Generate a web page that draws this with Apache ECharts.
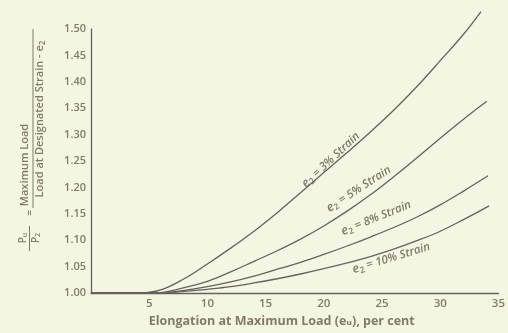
<!DOCTYPE html>
<html>
<head>
<meta charset="utf-8">
<script src="https://cdn.jsdelivr.net/npm/echarts@6/dist/echarts.min.js"></script>
<style>
  html, body { margin: 0; padding: 0; background: #f3f6e3; }
  #chart { width: 508px; height: 333px; }
</style>
</head>
<body>
<div id="chart"></div>
<script>
// Load ratio P_u / P_2 against elongation at maximum load, one curve per designated strain
const strainLevels = ['3%', '5%', '8%', '10%'];

const strain3 = [[0, 1.0], [4, 1.0], [6, 1.006], [8, 1.027], [10, 1.055], [12, 1.085], [14, 1.117],
  [16, 1.152], [18, 1.19], [20, 1.228], [22, 1.266], [24, 1.305], [26, 1.346], [28, 1.391],
  [30, 1.44], [32, 1.49], [33.5, 1.533]];
const strain5 = [[0, 1.0], [5.5, 1.0], [8, 1.01], [10, 1.022], [12, 1.04], [14, 1.06], [16, 1.08],
  [18, 1.102], [20, 1.127], [22, 1.155], [24, 1.186], [26, 1.22], [28, 1.256], [30, 1.293],
  [32, 1.329], [34, 1.363]];
const strain8 = [[0, 1.0], [6, 1.0], [8, 1.005], [10, 1.012], [12, 1.021], [14, 1.032], [16, 1.045],
  [18, 1.058], [20, 1.073], [22, 1.089], [24, 1.106], [26, 1.124], [28, 1.144], [30, 1.167],
  [32, 1.193], [34.1, 1.222]];
const strain10 = [[0, 1.0], [6, 1.0], [8, 1.003], [10, 1.007], [12, 1.012], [14, 1.019], [16, 1.027],
  [18, 1.036], [20, 1.046], [22, 1.057], [24, 1.069], [26, 1.083], [28, 1.099], [30, 1.117],
  [32, 1.139], [34.2, 1.165]];

const xTicks = [0, 5, 10, 15, 20, 25, 30, 35];
const yTicks = [1.00, 1.05, 1.10, 1.15, 1.20, 1.25, 1.30, 1.35, 1.40, 1.45, 1.50];

// where each curve's caption sits (data units) and how it is tilted
const captionAnchors = [
  { at: [20.6, 1.252], rotate: 43 },
  { at: [23.0, 1.197], rotate: 33 },
  { at: [24.5, 1.142], rotate: 22 },
  { at: [25.8, 1.066], rotate: 17 }
];

const ink = '#66625a';
const textInk = '#807a6a';
const fontFace = '"Open Sans", "DejaVu Sans", sans-serif';

const curves = [strain3, strain5, strain8, strain10];

const chart = echarts.init(document.getElementById('chart'), null, { renderer: 'canvas' });

const series = curves.map((pts, i) => ({
  type: 'line',
  data: pts,
  smooth: 0.4,
  showSymbol: false,
  clip: false,
  lineStyle: { color: ink, width: 1.3 },
  silent: true,
  markPoint: {
    symbol: 'circle',
    symbolSize: 0,
    silent: true,
    label: {
      show: true,
      position: 'inside',
      rotate: captionAnchors[i].rotate,
      formatter: '{e|e}{s|2}{t| = ' + strainLevels[i] + ' Strain}',
      rich: {
        e: { fontFamily: fontFace, fontSize: 12.5, fontStyle: 'italic', fontWeight: 600, color: textInk },
        s: { fontFamily: fontFace, fontSize: 8.5, fontWeight: 600, color: textInk, verticalAlign: 'bottom', padding: [6, 0, 0, 0] },
        t: { fontFamily: fontFace, fontSize: 11.5, fontStyle: 'italic', fontWeight: 600, color: textInk }
      }
    },
    data: [{ coord: captionAnchors[i].at, value: strainLevels[i] }]
  }
}));

const option = {
  backgroundColor: '#f3f6e3',
  animation: false,
  grid: { left: 91, top: 29, width: 420, height: 264 },
  xAxis: {
    type: 'value',
    min: xTicks[0],
    max: xTicks[xTicks.length - 1],
    interval: xTicks[1] - xTicks[0],
    name: 'Elongation at Maximum Load (eᵤ), per cent',
    nameLocation: 'middle',
    nameGap: 21,
    nameTextStyle: { fontFamily: fontFace, fontSize: 12.5, fontWeight: 'bold', color: textInk, padding: [0, 26, 0, 0] },
    axisLine: { lineStyle: { color: ink, width: 1.3 } },
    axisTick: { show: false },
    splitLine: { show: false },
    axisLabel: {
      margin: 5,
      fontFamily: fontFace, fontSize: 11.5, fontWeight: 600, color: textInk,
      formatter: v => (v === 0 ? '' : String(v))
    }
  },
  yAxis: {
    type: 'value',
    min: yTicks[0],
    max: yTicks[yTicks.length - 1],
    interval: 0.05,
    axisLine: { show: true, lineStyle: { color: ink, width: 1.3 } },
    axisTick: { show: false },
    splitLine: { show: false },
    axisLabel: {
      margin: 5,
      fontFamily: fontFace, fontSize: 11, fontWeight: 600, color: textInk,
      formatter: v => v.toFixed(2)
    }
  },
  graphic: [
    // left side ratio definition, written bottom-to-top
    {
      type: 'text', x: 25, y: 165, rotation: Math.PI / 2, silent: true,
      style: { text: 'Maximum Load', font: '600 11px ' + fontFace, fill: textInk, align: 'center', verticalAlign: 'middle' }
    },
    {
      type: 'line', silent: true,
      shape: { x1: 33, y1: 29, x2: 33, y2: 208 },
      style: { stroke: textInk, lineWidth: 1 }
    },
    {
      type: 'text', x: 40, y: 119, rotation: Math.PI / 2, silent: true,
      style: {
        text: '{t|Load at Designated Strain - e}{s|2}',
        align: 'center', verticalAlign: 'middle',
        rich: {
          t: { font: '600 11px ' + fontFace, fill: textInk, color: textInk },
          s: { font: '600 8px ' + fontFace, fill: textInk, color: textInk, verticalAlign: 'bottom', padding: [5, 0, 0, 0] }
        }
      }
    },
    {
      type: 'text', x: 30, y: 213, rotation: Math.PI / 2, silent: true,
      style: { text: '=', font: '600 10px ' + fontFace, fill: textInk, align: 'center', verticalAlign: 'middle' }
    },
    {
      type: 'text', x: 23, y: 238, rotation: Math.PI / 2, silent: true,
      style: {
        text: '{p|P}{s|u}', align: 'center', verticalAlign: 'middle',
        rich: {
          p: { font: '600 10px ' + fontFace, fill: textInk, color: textInk },
          s: { font: '600 7px ' + fontFace, fill: textInk, color: textInk, verticalAlign: 'bottom', padding: [4, 0, 0, 0] }
        }
      }
    },
    {
      type: 'line', silent: true,
      shape: { x1: 29.5, y1: 226, x2: 29.5, y2: 251 },
      style: { stroke: textInk, lineWidth: 1 }
    },
    {
      type: 'text', x: 36, y: 238, rotation: Math.PI / 2, silent: true,
      style: {
        text: '{p|P}{s|2}', align: 'center', verticalAlign: 'middle',
        rich: {
          p: { font: '600 10px ' + fontFace, fill: textInk, color: textInk },
          s: { font: '600 7px ' + fontFace, fill: textInk, color: textInk, verticalAlign: 'bottom', padding: [4, 0, 0, 0] }
        }
      }
    }
  ],
  series: series
};

chart.setOption(option);
</script>
</body>
</html>
